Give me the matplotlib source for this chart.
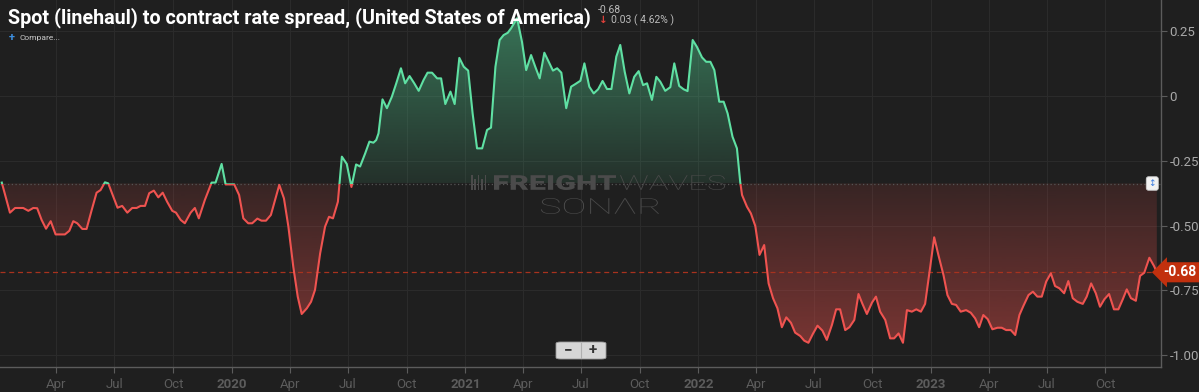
import matplotlib
matplotlib.use("Agg")
import matplotlib.pyplot as plt
import numpy as np
import pandas as pd
import matplotlib.dates as mdates
from matplotlib.patches import Rectangle, PathPatch, FancyBboxPatch
from matplotlib.path import Path
from matplotlib.textpath import TextPath
from matplotlib.font_manager import FontProperties
from matplotlib.transforms import blended_transform_factory, Affine2D, IdentityTransform
from matplotlib.colors import to_rgb

# ---------------- data (dates as decimal years, spread values) ----------------
decimal_years = [
    2019.012, 2019.047, 2019.069, 2019.104, 2019.126, 2019.147, 2019.164, 2019.183, 2019.202, 2019.222,
    2019.243, 2019.263, 2019.283, 2019.302, 2019.319, 2019.336, 2019.358, 2019.376, 2019.398, 2019.419,
    2019.436, 2019.455, 2019.469, 2019.491, 2019.509, 2019.529, 2019.551, 2019.572, 2019.591, 2019.608,
    2019.627, 2019.645, 2019.665, 2019.684, 2019.703, 2019.722, 2019.744, 2019.760, 2019.780, 2019.798,
    2019.823, 2019.841, 2019.858, 2019.884, 2019.913, 2019.930, 2019.956, 2019.973, 2019.991, 2020.010,
    2020.031, 2020.049, 2020.070, 2020.087, 2020.109, 2020.127, 2020.146, 2020.167, 2020.185, 2020.203,
    2020.223, 2020.242, 2020.263, 2020.282, 2020.299, 2020.321, 2020.339, 2020.356, 2020.378, 2020.399,
    2020.416, 2020.433, 2020.454, 2020.471, 2020.492, 2020.512, 2020.532, 2020.549, 2020.571, 2020.589,
    2020.606, 2020.618, 2020.628, 2020.645, 2020.664, 2020.685, 2020.704, 2020.724, 2020.742, 2020.761,
    2020.781, 2020.800, 2020.821, 2020.838, 2020.857, 2020.879, 2020.896, 2020.914, 2020.936, 2020.954,
    2020.974, 2020.993, 2021.012, 2021.031, 2021.050, 2021.072, 2021.093, 2021.110, 2021.129, 2021.147,
    2021.164, 2021.182, 2021.196, 2021.222, 2021.243, 2021.261, 2021.282, 2021.300, 2021.319, 2021.339,
    2021.358, 2021.376, 2021.394, 2021.412, 2021.433, 2021.454, 2021.472, 2021.494, 2021.511, 2021.532,
    2021.551, 2021.570, 2021.589, 2021.608, 2021.627, 2021.648, 2021.665, 2021.684, 2021.704, 2021.725,
    2021.744, 2021.763, 2021.780, 2021.801, 2021.820, 2021.837, 2021.858, 2021.880, 2021.897, 2021.918,
    2021.937, 2021.954, 2021.976, 2021.994, 2022.016, 2022.034, 2022.052, 2022.069, 2022.090, 2022.109,
    2022.126, 2022.147, 2022.166, 2022.180, 2022.188, 2022.209, 2022.226, 2022.245, 2022.263, 2022.283,
    2022.302, 2022.321, 2022.340, 2022.359, 2022.378, 2022.398, 2022.416, 2022.438, 2022.455, 2022.473,
    2022.492, 2022.512, 2022.533, 2022.552, 2022.574, 2022.592, 2022.609, 2022.631, 2022.649, 2022.670,
    2022.688, 2022.705, 2022.724, 2022.746, 2022.763, 2022.781, 2022.803, 2022.824, 2022.841, 2022.860,
    2022.879, 2022.896, 2022.917, 2022.936, 2022.956, 2022.974, 2022.996, 2023.013, 2023.031, 2023.053,
    2023.070, 2023.089, 2023.107, 2023.127, 2023.150, 2023.170, 2023.189, 2023.206, 2023.224, 2023.243,
    2023.263, 2023.285, 2023.303, 2023.322, 2023.342, 2023.361, 2023.379, 2023.396, 2023.418, 2023.437,
    2023.456, 2023.475, 2023.494, 2023.514, 2023.532, 2023.551, 2023.571, 2023.589, 2023.608, 2023.628,
    2023.651, 2023.668, 2023.687, 2023.707, 2023.725, 2023.744, 2023.764, 2023.785, 2023.804, 2023.823,
    2023.840, 2023.858, 2023.879, 2023.897, 2023.915, 2023.937, 2023.957, 2023.969,
]

spread = [
    -0.334, -0.450, -0.432, -0.432, -0.443, -0.432, -0.433, -0.478, -0.512, -0.483,
    -0.534, -0.534, -0.534, -0.520, -0.483, -0.491, -0.513, -0.513, -0.440, -0.373,
    -0.363, -0.333, -0.337, -0.389, -0.431, -0.424, -0.450, -0.432, -0.432, -0.424,
    -0.424, -0.375, -0.365, -0.391, -0.373, -0.408, -0.443, -0.450, -0.478, -0.491,
    -0.450, -0.432, -0.472, -0.401, -0.334, -0.334, -0.262, -0.341, -0.341, -0.341,
    -0.382, -0.472, -0.491, -0.491, -0.473, -0.481, -0.481, -0.459, -0.401, -0.343,
    -0.395, -0.504, -0.659, -0.774, -0.841, -0.819, -0.794, -0.748, -0.607, -0.504,
    -0.466, -0.472, -0.408, -0.234, -0.262, -0.351, -0.264, -0.272, -0.221, -0.176,
    -0.180, -0.170, -0.144, -0.013, -0.047, -0.003, 0.049, 0.107, 0.049, 0.077,
    0.049, 0.020, 0.062, 0.090, 0.090, 0.068, 0.068, -0.031, 0.017, -0.031,
    0.147, 0.113, 0.098, -0.067, -0.202, -0.202, -0.131, -0.122, 0.113, 0.216,
    0.235, 0.244, 0.261, 0.300, 0.209, 0.100, 0.158, 0.113, 0.068, 0.167,
    0.132, 0.098, 0.107, 0.090, -0.047, 0.036, 0.046, 0.059, 0.126, 0.036,
    0.010, 0.026, 0.058, 0.027, 0.027, 0.152, 0.197, 0.094, 0.010, 0.074,
    0.096, 0.042, 0.049, -0.015, 0.074, 0.055, 0.020, 0.034, 0.126, 0.039,
    0.026, 0.019, 0.216, 0.190, 0.149, 0.132, 0.132, 0.100, -0.022, -0.022,
    -0.067, -0.157, -0.202, -0.331, -0.382, -0.427, -0.453, -0.502, -0.613, -0.575,
    -0.723, -0.780, -0.819, -0.892, -0.854, -0.875, -0.913, -0.926, -0.944, -0.952,
    -0.918, -0.886, -0.905, -0.941, -0.883, -0.823, -0.823, -0.903, -0.892, -0.864,
    -0.764, -0.802, -0.841, -0.797, -0.774, -0.832, -0.864, -0.935, -0.935, -0.916,
    -0.952, -0.826, -0.832, -0.823, -0.832, -0.802, -0.659, -0.545, -0.613, -0.691,
    -0.768, -0.802, -0.806, -0.832, -0.826, -0.836, -0.858, -0.892, -0.845, -0.861,
    -0.900, -0.894, -0.894, -0.903, -0.903, -0.922, -0.845, -0.810, -0.768, -0.755,
    -0.774, -0.774, -0.716, -0.684, -0.733, -0.742, -0.761, -0.714, -0.780, -0.794,
    -0.802, -0.774, -0.723, -0.761, -0.813, -0.784, -0.764, -0.823, -0.823, -0.784,
    -0.746, -0.780, -0.790, -0.694, -0.682, -0.624, -0.656, -0.680,
]

y_ticks = [0.25, 0.0, -0.25, -0.50, -0.75, -1.00]
y_tick_labels = ["0.25", "0", "-0.25", "-0.50", "-0.75", "-1.00"]

title = "Spot (linehaul) to contract rate spread, (United States of America)"
last_value = -0.68
change = 0.03
change_pct = 4.62

# ---------------- style ----------------
BG = "#1f1f1f"
GRID = "#2b2b2b"
AXIS = "#5c5c5c"
GREEN = "#5fe0a3"
GREEN_FILL = "#4cb884"
RED = "#ef5350"
RED_FILL = "#d04a46"
MONTH_C = "#9a9a9a"
YEAR_C = "#eeeeee"
WM = "#4b4b4b"

plt.rcParams["font.family"] = ["Roboto", "DejaVu Sans"]

W, H = 1199, 392
fig = plt.figure(figsize=(W / 100, H / 100), dpi=100)
fig.patch.set_facecolor(BG)
ax = fig.add_axes([0, 1 - 367 / H, 1161 / W, 367 / H])
ax.set_facecolor(BG)


def dec_to_ts(t):
    y = int(t)
    s = pd.Timestamp(year=y, month=1, day=1)
    e = pd.Timestamp(year=y + 1, month=1, day=1)
    return s + (e - s) * (t - y)


dates = [dec_to_ts(t) for t in decimal_years]
x = mdates.date2num(dates)
yv = np.array(spread)

xmin = mdates.date2num(dec_to_ts(2019.0043))
xmax = mdates.date2num(dec_to_ts(2023.987))
ymin, ymax = -1.0455, 0.3704
base = (ymin + ymax) / 2


def gradient_fill(above, color, a_near, a_far):
    if above:
        where = yv >= base
        lo, hi = base, yv.max()
    else:
        where = yv <= base
        lo, hi = yv.min(), base
    poly = ax.fill_between(x, yv, base, where=where, interpolate=True,
                           facecolor="none", edgecolor="none")
    comp = Path.make_compound_path(*poly.get_paths())
    patch = PathPatch(comp, transform=ax.transData, facecolor="none", edgecolor="none")
    ax.add_patch(patch)
    n = 256
    arr = np.zeros((n, 1, 4))
    arr[:, 0, :3] = to_rgb(color)
    if above:
        arr[:, 0, 3] = np.linspace(a_near, a_far, n)
    else:
        arr[:, 0, 3] = np.linspace(a_far, a_near, n)
    im = ax.imshow(arr, extent=[xmin, xmax, lo, hi], aspect="auto",
                   origin="lower", zorder=1, interpolation="bilinear")
    im.set_clip_path(patch)


gradient_fill(True, GREEN_FILL, 0.12, 0.55)
gradient_fill(False, RED_FILL, 0.14, 0.50)

lg, = ax.plot(x, yv, color=GREEN, lw=1.5, zorder=4, solid_joinstyle="round")
lr, = ax.plot(x, yv, color=RED, lw=1.5, zorder=4, solid_joinstyle="round")
rg = Rectangle((xmin, base), xmax - xmin, ymax - base, transform=ax.transData)
rr = Rectangle((xmin, ymin), xmax - xmin, base - ymin, transform=ax.transData)
lg.set_clip_path(rg)
lr.set_clip_path(rr)

ax.axhline(base, color="#555555", lw=0.9, ls=(0, (1, 2)), zorder=3)
ax.axhline(last_value, color="#a8321e", lw=0.9, ls=(0, (4, 3)), zorder=3)

ax.set_xlim(xmin, xmax)
ax.set_ylim(ymin, ymax)

qs = pd.date_range("2019-04-01", "2023-10-01", freq="QS")
ax.set_xticks(mdates.date2num(qs))
labels = [str(d.year) if d.month == 1 else d.strftime("%b") for d in qs]
ax.set_xticklabels(labels)
for lab, d in zip(ax.get_xticklabels(), qs):
    lab.set_fontsize(9.5)
    if d.month == 1:
        lab.set_color(YEAR_C)
        lab.set_fontweight("bold")
    else:
        lab.set_color(MONTH_C)

ax.yaxis.tick_right()
ax.set_yticks(y_ticks)
ax.set_yticklabels(y_tick_labels)
ax.tick_params(axis="x", colors=AXIS, length=4, width=0.8, pad=4)
ax.tick_params(axis="y", colors=AXIS, length=4, width=0.8, pad=2, labelsize=9.5,
               labelcolor="#a8a8a8")
for lab in ax.get_xticklabels():
    lab.set_fontsize(9.5)

ax.grid(True, color=GRID, lw=0.8)
ax.set_axisbelow(True)
for s in ["top", "left"]:
    ax.spines[s].set_visible(False)
for s in ["right", "bottom"]:
    ax.spines[s].set_color(AXIS)
    ax.spines[s].set_linewidth(1.0)

# last value label
bt = blended_transform_factory(ax.transAxes, ax.transData)
ax.text(1.0302, last_value, f"{last_value:.2f}", transform=bt, color="white",
        fontsize=10, fontweight="bold", va="center", ha="right", zorder=10,
        clip_on=False,
        bbox=dict(boxstyle="larrow,pad=0.22", fc="#c2300e", ec="none"))

# small scale icon near baseline
ax.text(0.9925, base, "↕", transform=bt, color="#3b7de0", fontsize=6.5,
        va="center", ha="center", zorder=10, family=["DejaVu Sans"],
        bbox=dict(boxstyle="round,pad=0.25", fc="#f2f2f2", ec="#cccccc", lw=0.6))


# watermark, drawn as stretched text paths in figure pixels
def stretched_text(s, left, top, width, height, weight, color, z=2):
    tp = TextPath((0, 0), s, size=40, prop=FontProperties(family="Roboto", weight=weight))
    ext = tp.get_extents()
    tr = (Affine2D().translate(-ext.x0, -ext.y0)
          .scale(width / ext.width, height / ext.height)
          .translate(left, H - top - height))
    patch = PathPatch(tp, fc=color, ec="none", zorder=z)
    patch.set_transform(tr)
    fig.patches.append(patch)


stretched_text("FREIGHT", 494, 175, 122, 15, "black", WM)
stretched_text("WAVES", 620, 175, 105, 15, "light", WM)
stretched_text("SONΛR", 541, 198, 118, 16, "light", WM)
for i in range(5):
    fig.patches.append(Rectangle((471 + i * 3.4, H - 190), 1.6, 15 if i % 2 == 0 else 11,
                                 transform=IdentityTransform(), fc=WM, ec="none", zorder=2))

# title and header
fig.text(8 / W, 1 - 18 / H, title, color="white", fontsize=14.2, fontweight="bold",
         va="center", ha="left", zorder=20)
fig.text(598 / W, 1 - 10 / H, f"{last_value:.2f}", color="#bbbbbb", fontsize=7.5,
         va="center", ha="left", zorder=20)
fig.text(599 / W, 1 - 20 / H, "↓", color="#e0403a", fontsize=7.5, fontweight="bold",
         va="center", ha="left", zorder=20, family=["DejaVu Sans"])
fig.text(611 / W, 1 - 20 / H, f"{change:.2f} ( {change_pct:.2f}% )", color="#bbbbbb",
         fontsize=7.5, va="center", ha="left", zorder=20)
fig.text(9 / W, 1 - 38 / H, "+", color="#3d8fe0", fontsize=8, fontweight="bold",
         va="center", ha="left", zorder=20)
fig.text(19 / W, 1 - 38 / H, "Compare...", color="#cccccc", fontsize=6,
         va="center", ha="left", zorder=20)

# zoom buttons
btn = FancyBboxPatch((556 / W, 1 - 359 / H), 50 / W, 17 / H,
                     boxstyle="round,pad=0.0,rounding_size=0.004",
                     transform=fig.transFigure, fc="#d6d6d6", ec="#9a9a9a", lw=0.6,
                     zorder=20)
fig.patches.append(btn)
fig.lines.append(plt.Line2D([581 / W, 581 / W], [1 - 358 / H, 1 - 343 / H],
                            transform=fig.transFigure, color="#b0b0b0", lw=0.8, zorder=21))
fig.text(568 / W, 1 - 350 / H, "−", color="#333333", fontsize=11, fontweight="bold",
         va="center", ha="center", zorder=22)
fig.text(593 / W, 1 - 350 / H, "+", color="#333333", fontsize=11, fontweight="bold",
         va="center", ha="center", zorder=22)

fig.savefig("out.png", dpi=100, facecolor=BG)
